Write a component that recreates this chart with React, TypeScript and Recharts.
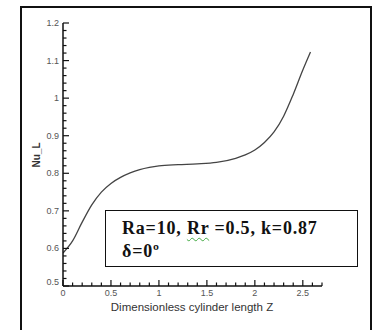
import React from "react";
import { LineChart, Line, XAxis, YAxis } from "recharts";

const zValues = [0, 0.1, 0.2, 0.3, 0.4, 0.5, 0.6, 0.7, 0.8, 0.9, 1.0, 1.2, 1.4, 1.6, 1.8, 1.9, 2.0, 2.1, 2.2, 2.3, 2.4, 2.5, 2.58];
const nuValues = [0.588, 0.62, 0.67, 0.716, 0.75, 0.773, 0.789, 0.801, 0.81, 0.816, 0.82, 0.823, 0.825, 0.829, 0.84, 0.849, 0.862, 0.882, 0.91, 0.952, 1.01, 1.075, 1.123];

const xTickLabels = ["0", "0.5", "1", "1.5", "2", "2.5"];
const yTickLabels = ["0.5", "0.6", "0.7", "0.8", "0.9", "1", "1.1", "1.2"];

const data = zValues.map((z, i) => ({ z, nu: nuValues[i] }));

// minor ticks every 0.1 on Z, every 0.02 on Nu
const xTicks = Array.from({ length: 28 }, (_, i) => i / 10);
const yTicks = Array.from({ length: 36 }, (_, i) => (50 + i * 2) / 100);

const labelFont = "'Liberation Sans', Arial, sans-serif";

function XTick(props: any) {
  const { x, y, payload } = props;
  const v = payload.value;
  const idx = Math.round(v * 2);
  const major = Math.abs(v * 2 - idx) < 1e-6;
  const label = major ? xTickLabels[idx] : undefined;
  return (
    <g>
      <line x1={x} x2={x} y1={y} y2={y - (major ? 6 : 3.5)} stroke="#111" strokeWidth={1.2} />
      {label !== undefined && (
        <text x={x} y={y + 10} textAnchor="middle" fontSize={9} fill="#555" fontFamily={labelFont}>
          {label}
        </text>
      )}
    </g>
  );
}

function YTick(props: any) {
  const { x, y, payload } = props;
  const v = payload.value;
  const idx = Math.round((v - 0.5) * 10);
  const major = Math.abs((v - 0.5) * 10 - idx) < 1e-6;
  const label = major ? yTickLabels[idx] : undefined;
  return (
    <g>
      <line x1={x} x2={x + (major ? 6 : 3.5)} y1={y} y2={y} stroke="#111" strokeWidth={1.2} />
      {label !== undefined && (
        <text x={x - 4} y={y + (idx === 0 ? -1 : 3)} textAnchor="end" fontSize={9} fill="#555" fontFamily={labelFont}>
          {label}
        </text>
      )}
    </g>
  );
}

export default function App() {
  return (
    <div style={{ position: "absolute", left: 0, top: 0, width: 372, height: 330, overflow: "hidden", background: "#fff" }}>
      <div
        style={{
          position: "absolute",
          left: 20,
          top: 6,
          width: 348,
          height: 340,
          border: "2px solid #111",
        }}
      />
      <div style={{ position: "absolute", left: 0, top: 0 }}>
        <LineChart width={372} height={330} data={data} margin={{ left: 62, top: 23, right: 50, bottom: 43 }}>
          <XAxis
            dataKey="z"
            type="number"
            domain={[0, 2.7]}
            ticks={xTicks}
            interval={0}
            height={1}
            tickSize={0}
            tickMargin={0}
            tick={<XTick />}
            axisLine={{ stroke: "#111", strokeWidth: 1.5 }}
            tickLine={false}
            allowDataOverflow
          />
          <YAxis
            type="number"
            domain={[0.5, 1.2]}
            ticks={yTicks}
            interval={0}
            width={1}
            tickSize={0}
            tickMargin={0}
            tick={<YTick />}
            axisLine={{ stroke: "#111", strokeWidth: 1.5 }}
            tickLine={false}
            allowDataOverflow
          />
          <Line
            type="monotone"
            dataKey="nu"
            stroke="#444"
            strokeWidth={1.3}
            dot={false}
            isAnimationActive={false}
          />
        </LineChart>
      </div>
      <div
        style={{
          position: "absolute",
          left: 0,
          width: 384,
          top: 301,
          textAlign: "center",
          fontFamily: labelFont,
          fontSize: 11.5,
          color: "#333",
        }}
      >
        Dimensionless cylinder length Z
      </div>
      <div
        style={{
          position: "absolute",
          left: 36,
          top: 155,
          transform: "translate(-50%, -50%) rotate(-90deg)",
          fontFamily: labelFont,
          fontSize: 10,
          fontWeight: "bold",
          color: "#333",
          whiteSpace: "nowrap",
        }}
      >
        Nu_L
      </div>
      <div
        style={{
          position: "absolute",
          left: 105,
          top: 210,
          width: 235,
          height: 49,
          padding: "6px 0 0 16px",
          border: "1.5px solid #111",
          background: "#fff",
          fontFamily: "'Liberation Serif', 'Times New Roman', serif",
          fontWeight: "bold",
          fontSize: 18,
          lineHeight: "23px",
          letterSpacing: 0.8,
          color: "#111",
          whiteSpace: "nowrap",
        }}
      >
        <div>
          Ra=10,{" "}
          <span style={{ textDecoration: "underline wavy #4a4", textUnderlineOffset: 3, textDecorationThickness: 1 }}>Rr</span>{" "}
          =0.5, k=0.87
        </div>
        <div>δ=0º</div>
      </div>
    </div>
  );
}
